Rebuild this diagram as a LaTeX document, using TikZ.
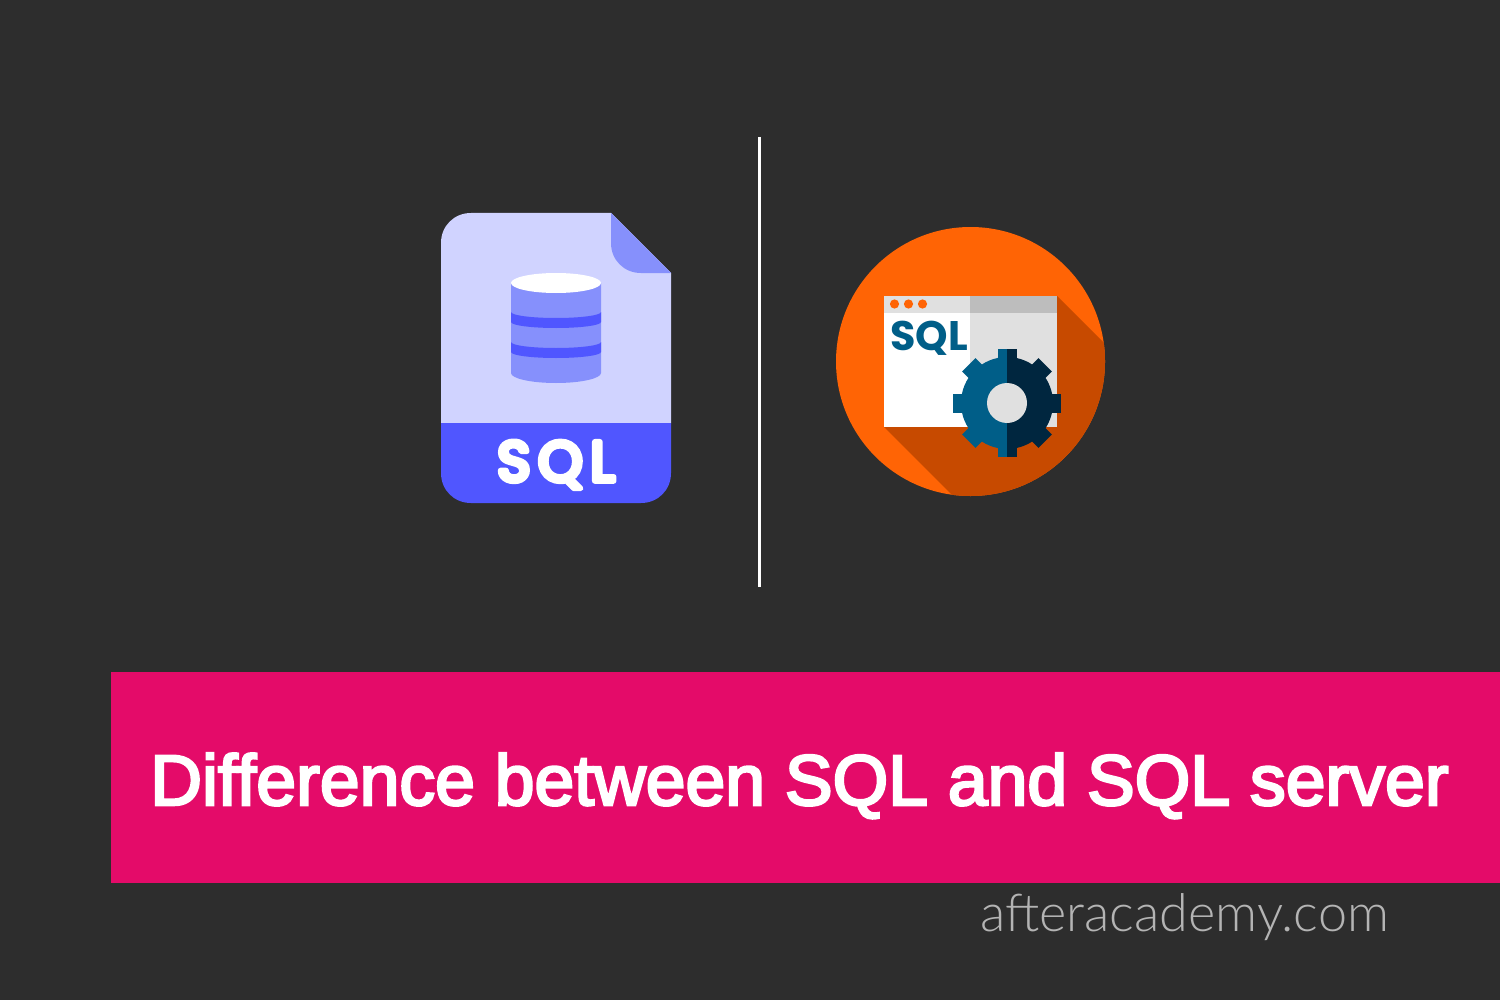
\documentclass[tikz,border=0pt]{standalone}
\usepackage{fontspec}
\setmainfont{Liberation Sans}
\newfontfamily\iconfont{Poppins}
\newfontfamily\roundfont[FakeBold=10]{Poppins}
\newfontfamily\titlefont[FakeBold=3.5]{Liberation Sans}
\newfontfamily\sitefont{Lato Light}
\definecolor{bgdark}{HTML}{2D2D2D}
\definecolor{fileLight}{HTML}{D0D3FF}
\definecolor{fileMid}{HTML}{8690FC}
\definecolor{fileBlue}{HTML}{5056FF}
\definecolor{badgeOrange}{HTML}{FF6405}
\definecolor{badgeShadow}{HTML}{C74A00}
\definecolor{winGrey}{HTML}{E0E0E0}
\definecolor{winDark}{HTML}{BDBDBD}
\definecolor{gearBlue}{HTML}{005E88}
\definecolor{gearNavy}{HTML}{00263F}
\definecolor{bannerPink}{HTML}{E40B69}
\definecolor{siteGrey}{HTML}{B4B4B4}
\begin{document}
\begin{tikzpicture}[
        x=0.02cm, y=-0.02cm,
        % text styles
        label/.style={inner sep=0pt, anchor=base west},
        title/.style={label, white, font=\fontsize{40.7}{50}\selectfont\titlefont},
        site/.style={label, siteGrey, font=\fontsize{29.7}{34}\selectfont\sitefont},
        dot/.style={fill=badgeOrange},
        tooth/.style={line width=19*0.569pt}
    ]

        % --- BACKGROUND ---
        \fill[bgdark] (0,0) rectangle (1500,1000);
        \useasboundingbox (0,0) rectangle (1500,1000);

        % --- DIVIDER ---
        \coordinate (T) at (759.5,137);
        \coordinate (B) at (759.5,587);
        \draw[white, line width=1.4pt] (T) -- (B);

        % --- FILE ICON ---
        \fill[fileLight] (441,423) -- (441,243) .. controls (441,226) and (454,213) .. (471,213)
            -- (611,213) -- (671,273) -- (671,423) -- cycle;
        \fill[fileMid] (611,213) -- (671,273) -- (641,273) .. controls (624,273) and (611,260) .. (611,243) -- cycle;
        \fill[fileBlue] (441,423) -- (671,423) -- (671,473) .. controls (671,490) and (658,503) .. (641,503)
            -- (471,503) .. controls (454,503) and (441,490) .. (441,473) -- cycle;

        % cylinder
        \fill[fileMid] (511,283) -- (601,283) -- (601,373) arc[start angle=0, end angle=180, x radius=45, y radius=10] -- cycle;
        \foreach \y in {312,342} {
            \fill[fileBlue] (511,\y) arc[start angle=180, end angle=0, x radius=45, y radius=6]
                -- (601,\y+10) arc[start angle=0, end angle=180, x radius=45, y radius=6] -- cycle;
        }
        \fill[white] (556,283) ellipse (45 and 10);
        \begin{scope}[line join=round]
            \node[label, white, font=\fontsize{32}{38}\selectfont\roundfont] (FileName) at (497,481) {S\kern4.5pt Q\kern4.5pt L};
        \end{scope}

        % --- BADGE ---
        \fill[badgeOrange] (970.5,361.5) circle (134.5);
        \begin{scope}
            \clip (970.5,361.5) circle (134.5);
            \fill[badgeShadow] (1057,296) -- (1207,446) -- (1034,577) -- (884,427) -- cycle;
        \end{scope}

        % window
        \fill[white] (884,313) rectangle (970,427);
        \fill[winGrey] (970,313) rectangle (1057,427);
        \fill[winGrey] (884,296) rectangle (970,313);
        \fill[winDark] (970,296) rectangle (1057,313);
        \foreach \x in {894.5,908.5,922.5} {
            \fill[dot] (\x,304) circle (4.6);
        }
        \node[label, gearBlue, font=\fontsize{23.5}{28}\selectfont\iconfont\bfseries] (WinName) at (890,350) {SQL};

        % gear, two halves
        \begin{scope}
            \clip (953,340) rectangle (1007,466);
            \fill[gearBlue] (1007,403) circle (46);
            \foreach \a in {0,45,...,315} {
                \draw[gearBlue, tooth] (1007,403) -- ++(\a:54);
            }
        \end{scope}
        \begin{scope}
            \clip (1007,340) rectangle (1066,466);
            \fill[gearNavy] (1007,403) circle (46);
            \foreach \a in {0,45,...,315} {
                \draw[gearNavy, tooth] (1007,403) -- ++(\a:54);
            }
        \end{scope}
        \fill[winGrey] (1007,403) circle (20);

        % --- BANNER ---
        \fill[bannerPink] (111,672) rectangle (1500,883);
        \node[title] (Title) at (150,805) {Difference between SQL and SQL server};
        \node[site] (Site) at (980,931) {afteracademy.com};

    \end{tikzpicture}
\end{document}
